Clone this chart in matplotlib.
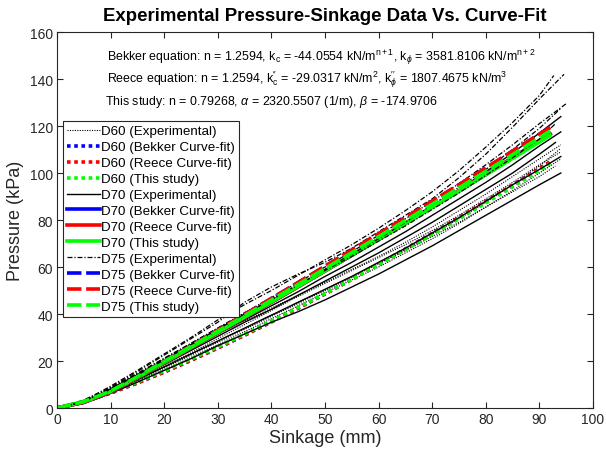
import matplotlib
matplotlib.use("Agg")
import matplotlib.pyplot as plt

plt.rcParams['font.family'] = ['Liberation Sans', 'DejaVu Sans']
plt.rcParams['mathtext.fontset'] = 'custom'
plt.rcParams['mathtext.rm'] = 'Liberation Sans'
plt.rcParams['mathtext.it'] = 'Liberation Sans:italic'
plt.rcParams['mathtext.bf'] = 'Liberation Sans:bold'

# ---------------- data ----------------
# common sinkage grid for experimental curves (mm); last point per curve given separately
exp_grid = [0, 2.5, 5, 7.5, 10, 15, 20, 25, 30, 35, 40, 45, 50, 55, 60, 65, 70, 75, 80, 85, 90]

# D60 experimental (dotted)
d60_exp_end = [94, 94, 94, 93, 94]
d60_exp = [
    [0, 0.9, 2.4, 4.4, 6.7, 11.6, 17.0, 22.5, 28.0, 33.5, 39.0, 44.5, 50.0, 55.5, 61.5, 67.5, 74.0, 80.5, 87.5, 95.0, 103.0, 110.5],
    [0, 1.0, 2.6, 4.7, 7.1, 12.3, 17.8, 23.5, 29.5, 35.5, 41.5, 47.5, 53.0, 58.5, 64.0, 69.5, 75.5, 82.0, 89.0, 96.0, 103.5, 109.0],
    [0, 0.8, 2.3, 4.2, 6.4, 11.2, 16.3, 21.5, 27.0, 32.5, 38.0, 43.5, 49.0, 54.5, 60.0, 66.0, 72.0, 78.5, 85.5, 92.5, 100.0, 106.0],
    [0, 0.9, 2.5, 4.5, 6.9, 12.0, 17.5, 23.0, 28.5, 34.0, 39.5, 45.0, 50.5, 56.0, 61.5, 67.0, 73.0, 79.0, 85.5, 92.0, 98.5, 103.0],
    [0, 1.1, 2.9, 5.2, 7.9, 13.6, 19.5, 25.5, 31.5, 37.0, 42.5, 48.0, 53.5, 59.0, 64.5, 70.5, 77.0, 84.0, 91.0, 98.5, 106.0, 112.0],
]
# D70 experimental (solid)
d70_exp_end = [94, 94, 94, 93, 94]
d70_exp = [
    [0, 0.8, 2.2, 4.0, 6.2, 11.0, 16.0, 21.0, 26.5, 31.5, 36.5, 41.0, 46.0, 51.5, 57.0, 63.0, 69.0, 75.5, 82.0, 88.5, 95.0, 100.0],
    [0, 0.9, 2.5, 4.6, 7.0, 12.0, 17.5, 23.0, 28.5, 34.0, 39.5, 45.0, 50.5, 56.0, 62.0, 68.0, 74.5, 81.0, 88.0, 95.0, 101.5, 107.0],
    [0, 1.0, 2.8, 5.0, 7.6, 13.2, 19.2, 25.5, 31.5, 37.5, 43.5, 49.5, 56.0, 62.0, 68.5, 75.0, 82.0, 89.0, 96.0, 103.5, 111.5, 117.5],
    [0, 1.0, 2.7, 4.9, 7.4, 12.8, 18.5, 24.5, 30.5, 36.5, 42.0, 48.0, 54.0, 60.0, 66.0, 72.5, 79.0, 86.0, 93.0, 100.0, 108.0, 113.0],
    [0, 1.1, 3.0, 5.4, 8.2, 14.2, 20.5, 27.0, 33.5, 40.0, 46.0, 52.0, 58.5, 65.0, 71.5, 78.5, 85.5, 93.0, 100.5, 108.5, 117.0, 124.0],
]
# D75 experimental (dash-dot)
d75_exp_end = [94.6, 92.7, 95, 94, 93]
d75_exp = [
    [0, 1.2, 3.2, 5.8, 8.8, 15.5, 22.5, 29.5, 36.5, 45.0, 51.5, 57.0, 62.0, 68.0, 75.0, 82.0, 89.0, 98.0, 108.0, 119.5, 131.5, 142.0],
    [0, 1.3, 3.4, 6.2, 9.3, 16.0, 23.0, 30.0, 37.5, 44.0, 50.0, 56.5, 63.0, 69.5, 76.5, 84.0, 92.0, 101.0, 111.0, 121.5, 133.0, 141.5],
    [0, 1.1, 3.0, 5.5, 8.4, 14.5, 21.0, 27.5, 34.0, 40.5, 47.0, 53.5, 60.0, 66.5, 73.5, 80.5, 88.0, 95.5, 103.5, 112.0, 121.0, 129.5],
    [0, 1.0, 2.9, 5.3, 8.0, 14.0, 20.5, 27.0, 33.5, 40.0, 46.0, 52.5, 59.0, 65.5, 72.0, 79.0, 86.5, 94.0, 101.5, 110.0, 119.0, 127.5],
    [0, 1.1, 3.1, 5.6, 8.5, 14.8, 21.2, 27.5, 34.0, 40.5, 46.5, 52.5, 58.5, 64.5, 71.0, 77.5, 84.5, 91.5, 99.0, 106.5, 114.5, 121.0],
]

# curve-fit sinkage grid (mm)
fit_x = [0, 5, 10, 15, 20, 25, 30, 35, 40, 45, 50, 55, 60, 65, 70, 75, 80, 85, 90, 92]
d60_bekker = [0, 2.67, 6.40, 10.66, 15.32, 20.29, 25.54, 31.01, 36.69, 42.53, 48.56, 54.77, 61.13, 67.61, 74.23, 80.97, 87.81, 94.77, 101.82, 104.69]
d60_reece = [0, 2.67, 6.40, 10.66, 15.32, 20.29, 25.54, 31.01, 36.69, 42.53, 48.56, 54.77, 61.13, 67.61, 74.23, 80.97, 87.81, 94.77, 101.82, 104.69]
d60_study = [0, 2.9, 6.8, 11.1, 15.8, 20.8, 26.0, 31.4, 37.0, 42.8, 48.7, 54.8, 61.0, 67.4, 73.9, 80.5, 87.3, 94.1, 101.1, 103.9]
d70_bekker = [0, 2.4, 6.8, 12.8, 19.2, 25.6, 32.0, 38.5, 45.0, 51.6, 58.3, 65.0, 71.8, 78.6, 85.5, 92.4, 99.4, 106.5, 113.7, 116.6]
d70_reece = [0, 2.4, 6.8, 12.8, 19.2, 25.6, 32.0, 38.5, 45.0, 51.6, 58.3, 65.0, 71.8, 78.6, 85.5, 92.4, 99.4, 106.5, 113.7, 116.6]
d70_study = [0, 2.6, 7.0, 13.0, 19.4, 25.8, 32.2, 38.7, 45.2, 51.8, 58.4, 65.1, 71.8, 78.6, 85.4, 92.3, 99.2, 106.2, 113.2, 116.0]
d75_bekker = [0, 2.5, 7.0, 13.2, 19.8, 26.4, 33.1, 39.8, 46.6, 53.4, 60.3, 67.2, 74.1, 81.0, 88.0, 95.0, 102.1, 109.3, 116.5, 119.4]
d75_reece = [0, 2.5, 7.0, 13.2, 19.8, 26.4, 33.1, 39.8, 46.6, 53.4, 60.3, 67.2, 74.1, 81.0, 88.0, 95.0, 102.1, 109.3, 116.5, 119.4]
d75_study = [0, 2.7, 7.2, 13.3, 19.8, 26.2, 32.7, 39.3, 45.9, 52.6, 59.3, 66.1, 72.9, 79.8, 86.7, 93.7, 100.7, 107.8, 115.0, 117.9]

x_ticks = [0, 10, 20, 30, 40, 50, 60, 70, 80, 90, 100]
y_ticks = [0, 20, 40, 60, 80, 100, 120, 140, 160]

# ---------------- figure ----------------
fig = plt.figure(figsize=(6.06, 4.56), dpi=100)
ax = fig.add_axes([0.094, 0.103, 0.8845, 0.8246])

def draw_exp(curves, ends, ls, label, lw):
    for i, (c, e) in enumerate(zip(curves, ends)):
        xs = exp_grid + [e]
        ax.plot(xs, c, color='black', linestyle=ls, linewidth=lw,
                label=label if i == 0 else None)

dot_fit = (0, (1.0, 1.0))
dash_fit = (0, (4.0, 1.3))

draw_exp(d60_exp, d60_exp_end, (0, (1, 1.2)), 'D60 (Experimental)', 0.8)
ax.plot(fit_x, d60_bekker, color='#0000ff', linestyle=dot_fit, linewidth=2.6, label='D60 (Bekker Curve-fit)')
ax.plot(fit_x, d60_reece, color='#ff0000', linestyle=dot_fit, linewidth=2.6, label='D60 (Reece Curve-fit)')
ax.plot(fit_x, d60_study, color='#00ff00', linestyle=dot_fit, linewidth=2.6, label='D60 (This study)')

draw_exp(d70_exp, d70_exp_end, '-', 'D70 (Experimental)', 1.0)
ax.plot(fit_x, d70_bekker, color='#0000ff', linestyle='-', linewidth=2.6, label='D70 (Bekker Curve-fit)')
ax.plot(fit_x, d70_reece, color='#ff0000', linestyle='-', linewidth=2.6, label='D70 (Reece Curve-fit)')
ax.plot(fit_x, d70_study, color='#00ff00', linestyle='-', linewidth=2.6, label='D70 (This study)')

draw_exp(d75_exp, d75_exp_end, (0, (4, 1.5, 1, 1.5)), 'D75 (Experimental)', 0.9)
ax.plot(fit_x, d75_bekker, color='#0000ff', linestyle=dash_fit, linewidth=2.6, label='D75 (Bekker Curve-fit)')
ax.plot(fit_x, d75_reece, color='#ff0000', linestyle=dash_fit, linewidth=2.6, label='D75 (Reece Curve-fit)')
ax.plot(fit_x, d75_study, color='#00ff00', linestyle=dash_fit, linewidth=2.6, label='D75 (This study)')

ax.set_xlim(0, 100)
ax.set_ylim(0, 160)
ax.set_xticks(x_ticks)
ax.set_yticks(y_ticks)
ax.tick_params(direction='in', top=True, right=True, length=4, width=0.8,
               labelsize=10, colors='#262626', pad=3)
for s in ax.spines.values():
    s.set_color('#262626')
    s.set_linewidth(0.8)

ax.set_xlabel('Sinkage (mm)', fontsize=13, color='#262626', labelpad=2)
ax.set_ylabel('Pressure (kPa)', fontsize=13, color='#262626', labelpad=4)
ax.set_title('Experimental Pressure-Sinkage Data Vs. Curve-Fit', fontsize=13.4,
             fontweight='bold', color='black', pad=9)

tfs = 8.9
ax.text(9.3, 149.8, r'Bekker equation: n = 1.2594, k$_{\rm c}$ = -44.0554 kN/m$^{\rm n+1}$, k$_{\phi}$ = 3581.8106 kN/m$^{\rm n+2}$',
        fontsize=tfs, va='center', ha='left')
ax.text(9.3, 140.0, r"Reece equation: n = 1.2594, k$_{\rm c}^{\prime\prime}$ = -29.0317 kN/m$^2$, k$_{\phi}^{\prime\prime}$ = 1807.4675 kN/m$^3$",
        fontsize=tfs, va='center', ha='left')
ax.text(8.9, 130.6, r'This study: n = 0.79268, $\alpha$ = 2320.5507 (1/m), $\beta$ = -174.9706',
        fontsize=tfs, va='center', ha='left')

leg = ax.legend(loc='upper left', bbox_to_anchor=(0.011, 0.763), borderaxespad=0,
                fontsize=9.6, handlelength=2.5, handletextpad=0.08, labelspacing=0.27,
                borderpad=0.3, fancybox=False, framealpha=1, edgecolor='#262626')
leg.get_frame().set_linewidth(0.8)

fig.savefig('out.png', dpi=100)
